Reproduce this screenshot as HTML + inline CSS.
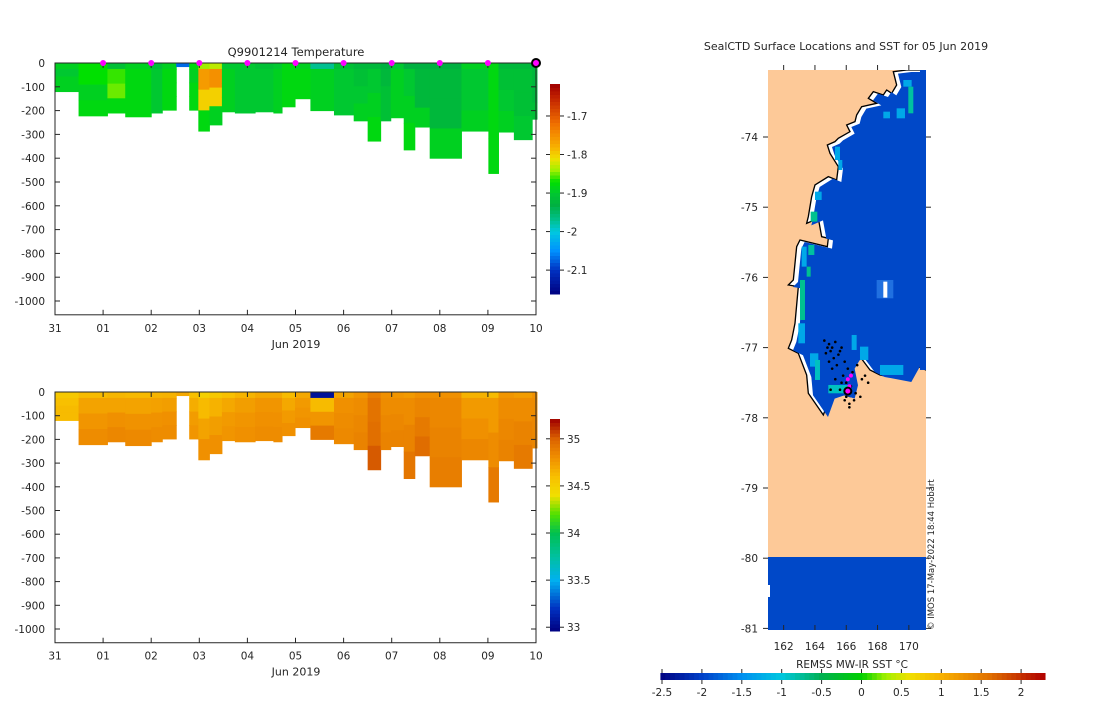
<!DOCTYPE html>
<html><head><meta charset="utf-8">
<style>
html,body{margin:0;padding:0;background:#fff;}
svg text{font-family:"DejaVu Sans","Liberation Sans",sans-serif;fill:#262626;}
</style></head>
<body>
<svg id="fig" width="1100" height="700" viewBox="0 0 1100 700" xmlns="http://www.w3.org/2000/svg">
<defs><clipPath id="mapclip"><rect x="768" y="70" width="158" height="560"/></clipPath></defs>
<g id="tempPlot"></g>
<g id="salPlot"></g>
<g id="mapPlot"></g>
</svg>
<script>
// ---- profile data (day offsets from 31 May) ----
const colStart = [0,0.49,1.09,1.46,2.0,2.23,2.52,2.79,2.98,3.21,3.47,3.74,4.16,4.54,4.72,4.99,5.31,5.8,6.21,6.5,6.77,6.98,7.25,7.48,7.79,8.45,9.01,9.22,9.54,9.92];
const colEnd   = [0.49,1.09,1.46,2.0,2.23,2.52,2.79,2.98,3.21,3.47,3.74,4.16,4.54,4.72,4.99,5.31,5.8,6.21,6.5,6.77,6.98,7.25,7.48,7.79,8.45,9.01,9.22,9.54,9.92,10.02];
const colDepth = [120,222,210,226,210,198,15,198,286,260,205,210,205,210,184,150,200,218,243,328,243,230,365,269,400,286,464,290,322,236];
const temp0 = [-1.89,-1.87,-1.91,-1.89,-1.91,-1.89,-2.07,-1.88,-1.84,-1.83,-1.90,-1.90,-1.91,-1.90,-1.88,-1.89,-1.97,-1.91,-1.92,-1.92,-1.93,-1.90,-1.93,-1.93,-1.93,-1.89,-1.88,-1.92,-1.92,-1.92];
const temp1 = [-1.90,-1.87,-1.86,-1.88,-1.90,-1.88,-2.07,-1.89,-1.76,-1.75,-1.89,-1.90,-1.90,-1.89,-1.88,-1.88,-1.89,-1.90,-1.91,-1.90,-1.92,-1.89,-1.90,-1.92,-1.92,-1.90,-1.88,-1.91,-1.91,-1.92];
const temp2 = [-1.89,-1.89,-1.85,-1.88,-1.90,-1.88,-2.07,-1.88,-1.80,-1.80,-1.89,-1.90,-1.90,-1.89,-1.88,-1.88,-1.89,-1.90,-1.90,-1.89,-1.91,-1.89,-1.89,-1.92,-1.92,-1.90,-1.88,-1.90,-1.91,-1.92];
const temp3 = [-1.89,-1.88,-1.88,-1.88,-1.90,-1.88,-2.07,-1.88,-1.88,-1.89,-1.89,-1.90,-1.90,-1.89,-1.88,-1.88,-1.89,-1.90,-1.89,-1.88,-1.91,-1.89,-1.88,-1.89,-1.89,-1.89,-1.88,-1.89,-1.90,-1.91];
const sal0 = [34.55,34.62,34.64,34.63,34.65,34.66,34.70,34.60,34.50,34.55,34.60,34.65,34.70,34.70,34.62,34.70,33.05,34.72,34.78,34.88,34.80,34.78,34.76,34.80,34.80,34.66,34.62,34.78,34.75,34.80];
const sal1 = [34.60,34.72,34.72,34.72,34.73,34.74,34.70,34.68,34.62,34.66,34.70,34.74,34.78,34.78,34.70,34.76,34.62,34.80,34.82,34.93,34.82,34.82,34.82,34.85,34.84,34.76,34.76,34.82,34.82,34.82];
const sal2 = [34.62,34.78,34.80,34.79,34.79,34.80,34.70,34.75,34.72,34.74,34.76,34.78,34.80,34.80,34.76,34.78,34.78,34.82,34.84,34.95,34.84,34.84,34.86,34.90,34.86,34.80,34.82,34.84,34.86,34.84];
const sal3 = [34.62,34.82,34.84,34.83,34.82,34.82,34.70,34.78,34.80,34.80,34.78,34.80,34.82,34.82,34.80,34.80,34.90,34.83,34.86,35.02,34.86,34.86,34.92,34.96,34.88,34.84,34.90,34.86,34.90,34.84];
const depthTicks = [0,-100,-200,-300,-400,-500,-600,-700,-800,-900,-1000];
const dayTickLabels = ["31","01","02","03","04","05","06","07","08","09","10"];
const markerDays = [1,2,3,4,5,6,7,8,9];
const tempCbTicks = [-1.7,-1.8,-1.9,-2,-2.1];
const salCbTicks = [35,34.5,34,33.5,33];
// ---- map data ----
const lonTicks = [162,164,166,168,170];
const latTicks = [-74,-75,-76,-77,-78,-79,-80,-81];
const sstTicks = [-2.5,-2,-1.5,-1,-0.5,0,0.5,1,1.5,2];
const trackLon = [164.6,164.9,165.1,165.3,165.0,164.8,165.5,165.7,165.2,164.7,165.9,166.1,165.4,165.8,166.0,166.3,166.6,166.9,167.2,167.4,165.6,165.9,166.2,165.1,165.3,165.0,166.4,166.0,165.7,166.2,166.5,164.9,165.6,166.7,167.0];
const trackLat = [-76.9,-76.95,-77.0,-76.92,-77.05,-77.0,-77.1,-77.0,-77.15,-77.08,-77.2,-77.3,-77.25,-77.4,-77.5,-77.55,-77.65,-77.7,-77.4,-77.5,-77.6,-77.75,-77.8,-77.3,-77.45,-77.6,-77.35,-77.7,-77.5,-77.85,-77.75,-77.2,-77.05,-77.25,-77.45];
const recentLon = [166.1,166.2,166.3];
const recentLat = [-77.45,-77.55,-77.4];

const NS="http://www.w3.org/2000/svg";
function mk(parent,tag,attrs,text){const e=document.createElementNS(NS,tag);for(const k in attrs)e.setAttribute(k,attrs[k]);if(text!==undefined)e.textContent=text;parent.appendChild(e);return e;}
function hex2rgb(h){return [parseInt(h.slice(1,3),16),parseInt(h.slice(3,5),16),parseInt(h.slice(5,7),16)];}
function cmap(stops,v){if(v<=stops[0][0])return stops[0][1];for(let i=1;i<stops.length;i++){if(v<=stops[i][0]){const a=stops[i-1],b=stops[i];const f=(v-a[0])/(b[0]-a[0]);const c1=hex2rgb(a[1]),c2=hex2rgb(b[1]);return 'rgb('+c1.map((c,j)=>Math.round(c+(c2[j]-c)*f)).join(',')+')';}}return stops[stops.length-1][1];}
const tStops=[[-2.162,'#000080'],[-2.1,'#0030c0'],[-2.05,'#0090ff'],[-2.0,'#00c8e0'],[-1.97,'#00c090'],[-1.93,'#00b040'],[-1.9,'#00c830'],[-1.87,'#00e000'],[-1.84,'#a0f000'],[-1.81,'#f0e000'],[-1.78,'#f8b000'],[-1.72,'#f07000'],[-1.65,'#c02000'],[-1.617,'#a00000']];
const sStops=[[32.96,'#000080'],[33.2,'#0030c0'],[33.5,'#00b0f0'],[33.75,'#00c0a0'],[34.0,'#00c050'],[34.2,'#50e000'],[34.4,'#f0e000'],[34.6,'#f8c000'],[34.8,'#f09000'],[35.0,'#dc6400'],[35.21,'#a00000']];
const sstStops=[[-2.52,'#000080'],[-2.0,'#0040c8'],[-1.5,'#0090f0'],[-1.0,'#00c8e0'],[-0.5,'#00b050'],[0,'#00d000'],[0.3,'#a0f000'],[0.6,'#f0e000'],[1.0,'#f8b000'],[1.6,'#e07000'],[2.3,'#b00000']];

function section(g,top,bot,arrs,stops,cbTop,cbBot,cbMin,cbMax,cbTicks,cbName,title){
  const x0=55,x1=536;
  const xs=d=>x0+(x1-x0)*d/10;
  const ys=z=>top-(z/1000)*(bot-top);
  const yb=ys(-1058);
  for(let i=0;i<colStart.length;i++){
    const D=colDepth[i];
    const bounds=D<=30?[0,D/4,D/2,3*D/4,D]:[0,25,25+(D-25)/3,25+2*(D-25)/3,D];
    for(let k=0;k<4;k++){
      const r=mk(g,'rect',{x:xs(colStart[i]),y:ys(-bounds[k]),width:xs(colEnd[i])-xs(colStart[i])+0.5,height:ys(-bounds[k+1])-ys(-bounds[k])+0.5,fill:cmap(stops,arrs[k][i])});
      
      
    }
  }
  const ax=mk(g,'rect',{x:x0,y:top,width:x1-x0,height:yb-top,fill:'none',stroke:'#262626','stroke-width':1});
  
  depthTicks.forEach(t=>{const y=ys(t);mk(g,'line',{x1:x0,y1:y,x2:x0+5,y2:y,stroke:'#262626'});mk(g,'line',{x1:x1,y1:y,x2:x1-5,y2:y,stroke:'#262626'});
    const tx=mk(g,'text',{x:x0-10,y:y+4,'text-anchor':'end','font-size':10.5},String(t));});
  dayTickLabels.forEach((l,i)=>{const x=xs(i);mk(g,'line',{x1:x,y1:yb,x2:x,y2:yb-5,stroke:'#262626'});mk(g,'line',{x1:x,y1:top,x2:x,y2:top+5,stroke:'#262626'});
    const tx=mk(g,'text',{x:x,y:yb+17,'text-anchor':'middle','font-size':10.5},l);});
  const xl=mk(g,'text',{x:296,y:yb+33,'text-anchor':'middle','font-size':11},'Jun 2019');
  if(title){const tt=mk(g,'text',{x:296,y:top-7,'text-anchor':'middle','font-size':11.5},title);
    markerDays.forEach(d=>{const c=mk(g,'circle',{cx:xs(d),cy:top,r:3,fill:'#ff00ff'});});
    const c=mk(g,'circle',{cx:xs(10),cy:top,r:4,fill:'#ff00ff',stroke:'#000','stroke-width':2});}
  const cb=mk(g,'g',{});
  const n=60;const cy=v=>cbBot-(v-cbMin)/(cbMax-cbMin)*(cbBot-cbTop);
  for(let i=0;i<n;i++){const v0=cbMin+(cbMax-cbMin)*i/n,v1=cbMin+(cbMax-cbMin)*(i+1)/n;mk(cb,'rect',{x:550,y:cy(v1),width:10,height:cy(v0)-cy(v1)+0.5,fill:cmap(stops,(v0+v1)/2)});}
  cbTicks.forEach(t=>{const y=cy(t);mk(cb,'line',{x1:560,y1:y,x2:564,y2:y,stroke:'#262626'});mk(cb,'line',{x1:550,y1:y,x2:546,y2:y,stroke:'#262626'});
    const tx=mk(cb,'text',{x:567,y:y+4,'font-size':10.5},String(t));});
}
section(document.getElementById('tempPlot'),63,301,[temp0,temp1,temp2,temp3],tStops,84,294,-2.162,-1.617,tempCbTicks,'temperature-colorbar','Q9901214  Temperature');
section(document.getElementById('salPlot'),392,629,[sal0,sal1,sal2,sal3],sStops,419,631,32.96,35.21,salCbTicks,'salinity-colorbar',null);

// ---- map ----
(function(){
  const g=document.getElementById('mapPlot');
  const lx=lon=>768+(lon-161)*15.65;
  const ly=lat=>137+(-74-lat)*70.2;
  const t=mk(g,'text',{x:846,y:50,'text-anchor':'middle','font-size':11},'SealCTD Surface Locations and SST for 05 Jun 2019');
  const mg=mk(g,'g',{'clip-path':'url(#mapclip)'});
  mk(mg,'rect',{x:768,y:70,width:158,height:488,fill:'#fdc998'});
  const shelf=mk(mg,'rect',{x:768,y:557,width:158,height:73,fill:'#0048c8'});
  mk(mg,'rect',{x:768,y:585,width:2,height:12,fill:'#fff'});
  const pts="500,30 460,35 470,75 455,100 440,90 430,105 400,95 385,115 410,130 365,140 350,165 345,185 320,195 330,215 295,235 285,245 262,255 270,280 295,320 290,360 265,350 225,375 215,410 205,470 200,490 235,475 245,530 265,535 262,560 180,540 170,560 160,660 145,675 175,680 165,790 155,840 145,865 175,880 200,945 205,1000 250,1065 270,1010 300,1000 330,1010 340,970 330,920 345,895 360,890 390,930 420,945 500,960 525,915 558,930 558,30";
  const gm=mk(mg,'g',{transform:'translate(740,60) scale(0.3333)'});
  const coast=mk(gm,'polygon',{points:pts,fill:'#fff',stroke:'#000','stroke-width':4});
  const sea=mk(gm,'polygon',{points:pts,fill:'#0048c8',transform:'translate(14,6)'});
  mk(gm,'rect',{x:540,y:30,width:20,height:900,fill:'#0048c8'});
  [[205,555,18,30,'#00c0a0'],[185,560,15,60,'#00a8e8'],[180,660,15,120,'#00c090'],[200,620,12,30,'#00c090'],[175,790,20,60,'#00a8e8'],[210,880,25,40,'#00a8e8'],[225,900,15,60,'#00c0c0'],[225,395,20,25,'#00a8e8'],[212,455,20,30,'#00c090'],[285,260,15,40,'#00a8e8'],[295,300,12,30,'#00a8e8'],[430,155,20,20,'#00a8e8'],[470,145,25,30,'#00a8e8'],[490,60,25,20,'#00a8e8'],[505,80,15,80,'#00c0a0'],[335,825,15,45,'#00a8e8'],[360,860,25,40,'#00a8e8'],[420,915,70,30,'#00a8e8'],[265,975,60,25,'#00c0c0'],[410,660,50,55,'#2070e0']].forEach(c=>{const r=mk(gm,'rect',{x:c[0],y:c[1],width:c[2],height:c[3],fill:c[4]});});
  mk(gm,'rect',{x:430,y:665,width:12,height:48,fill:'#fff'});
  for(let i=0;i<trackLon.length;i++){const c=mk(g,'circle',{cx:lx(trackLon[i]),cy:ly(trackLat[i]),r:1.3,fill:'#000'});}
  for(let i=0;i<recentLon.length;i++){const c=mk(g,'circle',{cx:lx(recentLon[i]),cy:ly(recentLat[i]),r:2,fill:'#ff00ff'});}
  const cur=mk(g,'circle',{cx:lx(166.1),cy:ly(-77.62),r:3.5,fill:'#ff00ff',stroke:'#000','stroke-width':2});
  lonTicks.forEach(l=>{const x=lx(l);mk(g,'line',{x1:x,y1:630,x2:x,y2:625,stroke:'#262626'});mk(g,'line',{x1:x,y1:65,x2:x,y2:70,stroke:'#262626'});
    const tx=mk(g,'text',{x:x,y:650,'text-anchor':'middle','font-size':10.5},String(l));});
  latTicks.forEach(l=>{const y=ly(l);mk(g,'line',{x1:763,y1:y,x2:768,y2:y,stroke:'#262626'});mk(g,'line',{x1:926,y1:y,x2:931,y2:y,stroke:'#262626'});
    const tx=mk(g,'text',{x:758,y:y+4,'text-anchor':'end','font-size':10.5},String(l));});
  const cp=mk(g,'text',{x:0,y:0,'font-size':8.5,transform:'translate(934,630) rotate(-90)'},'© IMOS 17-May-2022 18:44 Hobart');
  const cb=mk(g,'g',{});
  const bx=v=>662+(v+2.5)*79.8;const vmin=-2.52,vmax=2.3;const n=80;
  for(let i=0;i<n;i++){const v0=vmin+(vmax-vmin)*i/n,v1=vmin+(vmax-vmin)*(i+1)/n;mk(cb,'rect',{x:bx(v0),y:673,width:bx(v1)-bx(v0)+0.5,height:7,fill:cmap(sstStops,(v0+v1)/2)});}
  sstTicks.forEach(v=>{const x=bx(v);mk(cb,'line',{x1:x,y1:680,x2:x,y2:684,stroke:'#262626'});mk(cb,'line',{x1:x,y1:673,x2:x,y2:669,stroke:'#262626'});
    const tx=mk(cb,'text',{x:x,y:696,'text-anchor':'middle','font-size':10.5},String(v));});
  const ct=mk(g,'text',{x:852,y:668,'text-anchor':'middle','font-size':10.5},'REMSS MW-IR SST °C');
})();
</script>
</body></html>
